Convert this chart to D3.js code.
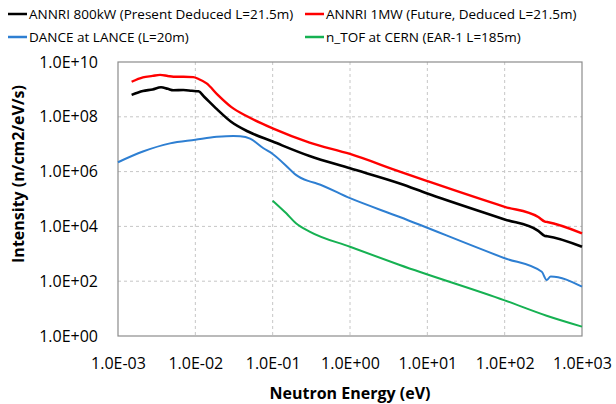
<!DOCTYPE html>
<html lang="en">
<head>
<meta charset="UTF-8">
<title>Neutron intensity</title>
<script src="https://cdn.jsdelivr.net/npm/d3@7"></script>
<style>
  body { margin: 0; background: #fff; }
  text { font-family: "Open Sans", "Noto Sans", sans-serif; fill: #000; }
</style>
</head>
<body>
<script>

// energies in eV, intensity in n/cm2/eV/s
var annri800E = [1.5e-3, 2.1e-3, 2.8e-3, 3.6e-3, 4.4e-3, 5.2e-3, 7.0e-3, 9.0e-3, 1.1e-2, 1.3e-2, 1.9e-2, 2.9e-2, 4.8e-2, 0.1, 0.3, 1, 4.4, 10, 100, 272, 331, 355, 1000];
var annri800I = [6.3e8, 8.7e8, 1.0e9, 1.2e9, 1.05e9, 9.3e8, 9.5e8, 8.9e8, 8.5e8, 5.4e8, 1.9e8, 6.6e7, 2.9e7, 1.25e7, 3.7e6, 1.32e6, 3.7e5, 1.6e5, 1.8e4, 6.9e3, 4.5e3, 4.4e3, 1.8e3];

var annri1mwE = [1.5e-3, 2.1e-3, 2.8e-3, 3.5e-3, 4.4e-3, 5.2e-3, 7.0e-3, 9.4e-3, 1.1e-2, 1.4e-2, 1.95e-2, 2.9e-2, 4.8e-2, 0.1, 0.3, 1, 4.4, 10, 100, 272, 331, 355, 1000];
var annri1mwI = [1.9e9, 2.75e9, 3.1e9, 3.4e9, 3.1e9, 2.9e9, 2.9e9, 2.8e9, 2.4e9, 1.66e9, 6.3e8, 2.3e8, 1.0e8, 3.8e7, 1.15e7, 4.4e6, 1.0e6, 4.5e5, 5.2e4, 2.2e4, 1.5e4, 1.45e4, 5.6e3];

var danceE = [1.0e-3, 2.1e-3, 4.7e-3, 1.0e-2, 1.9e-2, 2.5e-2, 3.1e-2, 3.8e-2, 5.1e-2, 7.6e-2, 0.1, 0.17, 0.2, 0.3, 0.37, 1, 4.4, 100, 302, 349, 394, 1000];
var danceI = [2.2e6, 5.4e6, 1.07e7, 1.45e7, 1.86e7, 1.97e7, 2.0e7, 1.95e7, 1.6e7, 7.1e6, 4.4e6, 1.15e6, 7.6e5, 4.4e5, 3.7e5, 1.07e5, 2.2e4, 6.9e2, 2.2e2, 1.1e2, 1.5e2, 63];

var ntofE = [0.1, 0.15, 0.2, 0.3, 1, 4.4, 100, 349, 1000];
var ntofI = [8.7e4, 3.0e4, 1.3e4, 6.5e3, 1.8e3, 3.9e2, 20, 5.5, 2.2];

var seriesNames = ["ANNRI 800kW (Present Deduced L=21.5m)", "ANNRI 1MW (Future, Deduced L=21.5m)", "DANCE at LANCE (L=20m)", "n_TOF at CERN (EAR-1 L=185m)"];
var seriesColors = ["#000000", "#ff0000", "#2e7fd2", "#16b152"];

var xTicks = [1e-3, 1e-2, 1e-1, 1e0, 1e1, 1e2, 1e3];
var xTickLabels = ["1.0E-03", "1.0E-02", "1.0E-01", "1.0E+00", "1.0E+01", "1.0E+02", "1.0E+03"];
var yTicks = [1e0, 1e2, 1e4, 1e6, 1e8, 1e10];
var yTickLabels = ["1.0E+00", "1.0E+02", "1.0E+04", "1.0E+06", "1.0E+08", "1.0E+10"];

var W = 616, H = 404;
var margin = { top: 62, left: 118, bottom: 68, right: 34 };
var width = W - margin.left - margin.right;
var height = H - margin.top - margin.bottom;

var svg = d3.select('body').append('svg')
  .attr('width', W)
  .attr('height', H);

var x = d3.scaleLog().domain([1e-3, 1e3]).range([0, width]);
var y = d3.scaleLog().domain([1, 1e10]).range([height, 0]);

var s = svg.append('g')
  .attr('transform', 'translate(' + margin.left + ',' + margin.top + ')');

// grid
s.append('g').selectAll('line')
  .data(xTicks.slice(1, -1))
  .enter().append('line')
  .attr('x1', function (d) { return x(d); }).attr('x2', function (d) { return x(d); })
  .attr('y1', 0).attr('y2', height)
  .style('stroke', '#c6c6c6').style('stroke-dasharray', '3,3');
s.append('g').selectAll('line')
  .data(yTicks.slice(1, -1))
  .enter().append('line')
  .attr('y1', function (d) { return y(d); }).attr('y2', function (d) { return y(d); })
  .attr('x1', 0).attr('x2', width)
  .style('stroke', '#c6c6c6').style('stroke-dasharray', '3,3');

// axes
var axis_x = s.append('g')
  .attr('transform', 'translate(0,' + height + ')')
  .call(d3.axisBottom(x).tickValues(xTicks).tickSize(0).tickPadding(22)
    .tickFormat(function (d, i) { return xTickLabels[i]; }));
var axis_y = s.append('g')
  .call(d3.axisLeft(y).tickValues(yTicks).tickSize(0).tickPadding(20)
    .tickFormat(function (d, i) { return yTickLabels[i]; }));
[axis_x, axis_y].forEach(function (a) {
  a.select('.domain').remove();
  a.selectAll('text').style('font-size', '16px').style('font-family', '"Open Sans", sans-serif');
});

s.append('rect')
  .attr('width', width).attr('height', height)
  .style('fill', 'none').style('stroke', '#8c8c8c').style('stroke-width', 1.2);

// lines
var line = d3.line()
  .x(function (d) { return x(d[0]); })
  .y(function (d) { return y(d[1]); })
  .curve(d3.curveMonotoneX);

var series = [
  { e: annri800E, v: annri800I, w: 2.6 },
  { e: annri1mwE, v: annri1mwI, w: 2.4 },
  { e: danceE, v: danceI, w: 2 },
  { e: ntofE, v: ntofI, w: 2 }
];

var plot = s.append('g');
[2, 3, 0, 1].forEach(function (k) {
  var d = series[k];
  plot.append('path')
    .datum(d3.zip(d.e, d.v))
    .attr('d', line)
    .style('fill', 'none')
    .style('stroke', seriesColors[k])
    .style('stroke-width', d.w)
    .style('stroke-linejoin', 'round');
});

// legend
var leg = svg.append('g');
seriesNames.forEach(function (name, i) {
  var lx = (i % 2) ? 305 : 8;
  var ly = (i < 2) ? 14 : 37;
  leg.append('line')
    .attr('x1', lx).attr('x2', lx + 19)
    .attr('y1', ly).attr('y2', ly)
    .style('stroke', seriesColors[i]).style('stroke-width', 2.5);
  leg.append('text')
    .attr('x', lx + 21).attr('y', ly)
    .attr('dy', '0.35em')
    .style('font-size', '13.5px')
    .text(name);
});

// titles
svg.append('text')
  .attr('x', margin.left + width / 2).attr('y', 393)
  .attr('dy', '0.35em')
  .attr('text-anchor', 'middle')
  .style('font-size', '16px').style('font-weight', 'bold')
  .text('Neutron Energy (eV)');
svg.append('text')
  .attr('transform', 'translate(18,174) rotate(-90)')
  .attr('dy', '0.35em')
  .attr('text-anchor', 'middle')
  .style('font-size', '16px').style('font-weight', 'bold')
  .text('Intensity (n/cm2/eV/s)');

</script>
</body>
</html>
